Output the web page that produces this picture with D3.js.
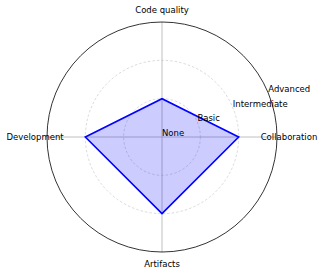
<!DOCTYPE html>
<html>
<head>
<meta charset="utf-8">
<script src="https://cdn.jsdelivr.net/npm/d3@7"></script>
<style>
body { margin: 0; background: #fff; }
text { font-family: "DejaVu Sans", sans-serif; font-size: 8.5px; fill: #000; }
</style>
</head>
<body>
<script>
const categories = ["Collaboration", "Code quality", "Development", "Artifacts"];
const values = [2, 1, 2, 2];
const levels = ["None", "Basic", "Intermediate", "Advanced"];

const w = 322;
const h = 275;
const cx = 162, cy = 137;

const svg = d3.select("body")
	.append("svg")
	.attr("width", w)
	.attr("height", h);

const r = d3.scaleLinear().domain([0, 3]).range([0, 115]);
const angle = d3.scaleLinear().domain([0, categories.length]).range([0, 2 * Math.PI]);

const g = svg.append("g").attr("transform", `translate(${cx},${cy})`);

// dashed rings for inner levels
g.selectAll("circle.ring")
	.data(d3.range(1, levels.length - 1))
	.enter()
	.append("circle")
	.attr("class", "ring")
	.attr("r", d => r(d))
	.attr("fill", "none")
	.attr("stroke", "#d0d0d0")
	.attr("stroke-width", 0.8)
	.attr("stroke-dasharray", "2.5,2");

// spokes
g.selectAll("line.spoke")
	.data(categories)
	.enter()
	.append("line")
	.attr("class", "spoke")
	.attr("x1", 0).attr("y1", 0)
	.attr("x2", (d, i) => r(3) * Math.cos(angle(i)))
	.attr("y2", (d, i) => -r(3) * Math.sin(angle(i)))
	.attr("stroke", "#b0b0b0")
	.attr("stroke-width", 0.8);

// outer frame
g.append("circle")
	.attr("r", r(3))
	.attr("fill", "none")
	.attr("stroke", "#000")
	.attr("stroke-width", 0.8);

const line = d3.lineRadial()
	.angle((d, i) => Math.PI / 2 - angle(i))
	.radius(d => r(d))
	.curve(d3.curveLinearClosed);

g.append("path")
	.attr("d", line(values))
	.attr("fill", "blue")
	.attr("fill-opacity", 0.2)
	.attr("stroke", "blue")
	.attr("stroke-width", 1.6)
	.attr("stroke-linejoin", "miter");

// category labels
g.selectAll("text.cat")
	.data(categories)
	.enter()
	.append("text")
	.attr("class", "cat")
	.attr("x", (d, i) => 127 * Math.cos(angle(i)))
	.attr("y", (d, i) => -127 * Math.sin(angle(i)))
	.attr("text-anchor", "middle")
	.attr("dy", "0.35em")
	.text(d => d);

// level labels at 22.5 degrees
const la = Math.PI / 8;
g.selectAll("text.lvl")
	.data(levels)
	.enter()
	.append("text")
	.attr("class", "lvl")
	.attr("x", (d, i) => r(i) * Math.cos(la))
	.attr("y", (d, i) => -r(i) * Math.sin(la) - 1)
	.text(d => d);
</script>
</body>
</html>
